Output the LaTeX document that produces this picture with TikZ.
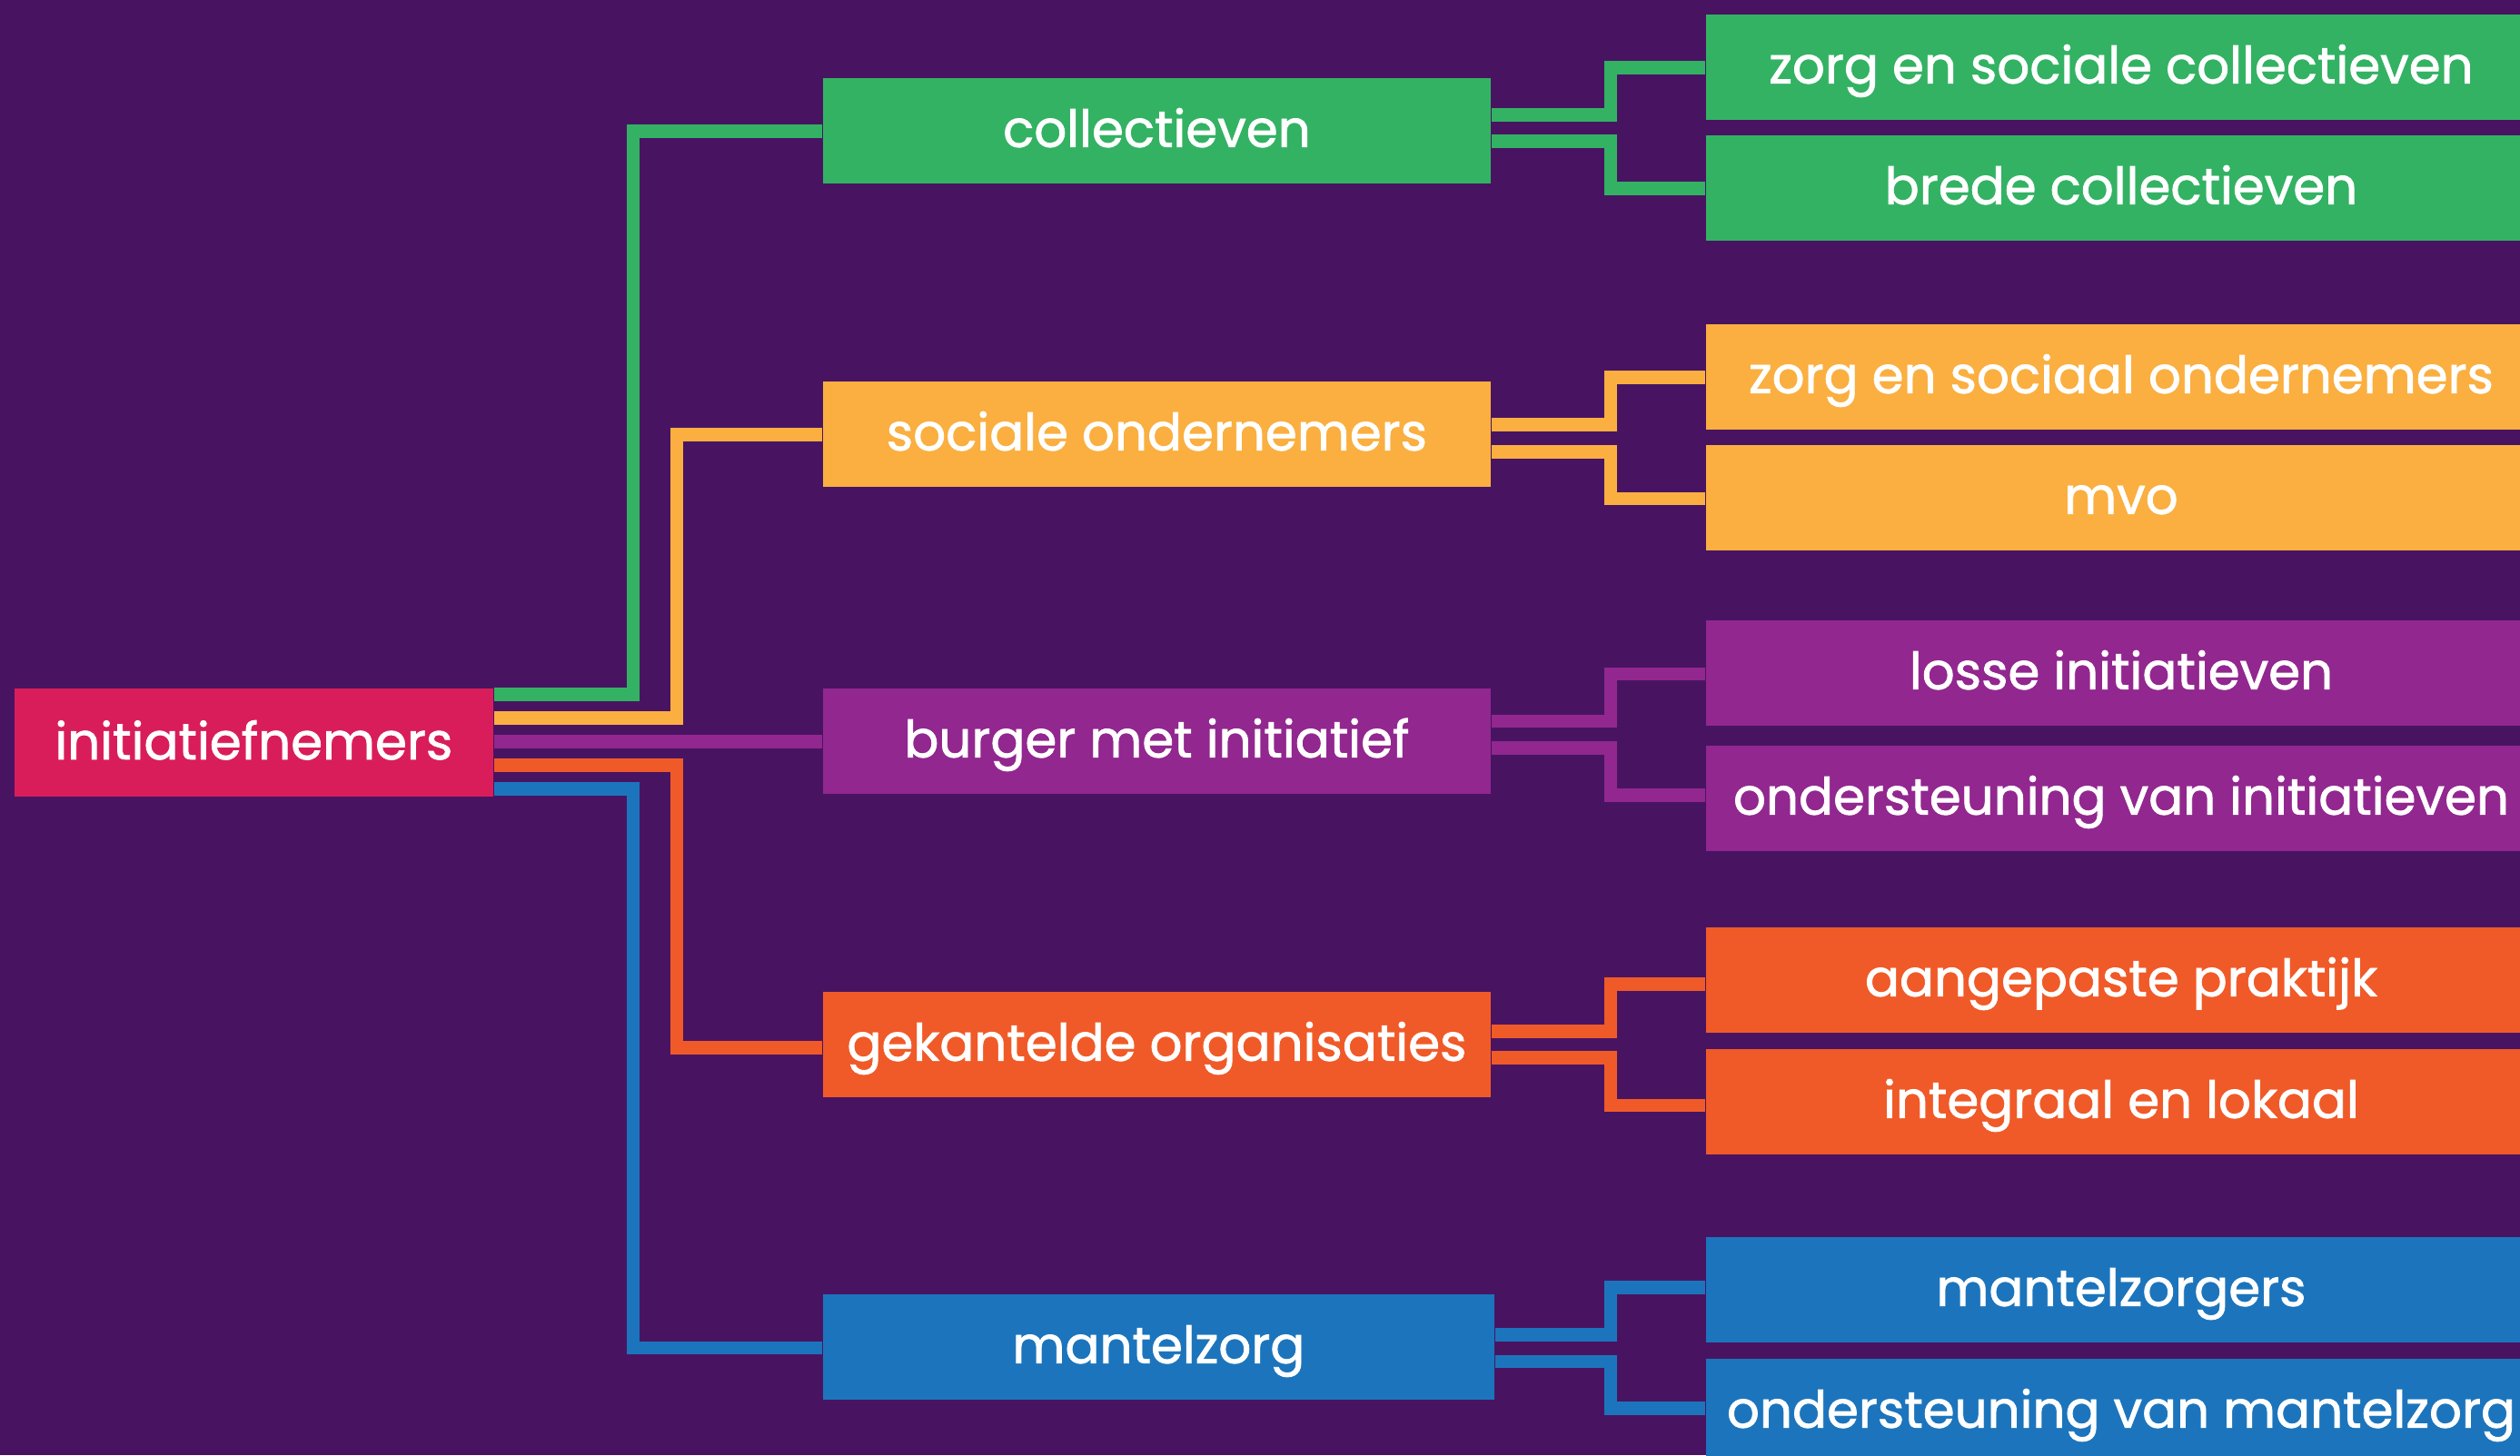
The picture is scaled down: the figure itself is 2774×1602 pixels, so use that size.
\documentclass[tikz,border=0pt]{standalone}
\usepackage{fontspec}
\setmainfont{Poppins}[FakeBold=1.4]
\definecolor{bgc}{RGB}{72,20,98}
\definecolor{cgreen}{RGB}{51,178,99}
\definecolor{cyellow}{RGB}{250,175,64}
\definecolor{cpurple}{RGB}{146,39,143}
\definecolor{corange}{RGB}{240,90,40}
\definecolor{cblue}{RGB}{28,117,188}
\definecolor{cpink}{RGB}{217,29,91}
\tikzset{
  box/.style={rectangle, inner sep=0pt, anchor=north west, minimum height=1.16cm,
    text height=0.36cm, text depth=0pt, text=white, font=\fontsize{16}{18}\selectfont},
  lvone/.style={box, minimum width=7.35cm},
  lvtwo/.style={box, minimum width=9.14cm},
  conn/.style={line width=0.147cm, line join=miter, line cap=butt}
}
\begin{document}
\begin{tikzpicture}[x=0.01cm,y=-0.01cm]
\useasboundingbox (0,0) rectangle (2774,1602);
\clip (0,0) rectangle (2774,1602);
\fill[bgc] (0,0) rectangle (2774,1602);

% root
\node[box, fill=cpink, minimum width=5.27cm, minimum height=1.19cm, text height=0.375cm] (root) at (15,757) {initiatiefnemers};

% level one
\node[lvone, fill=cgreen] (coll) at (905,85) {collectieven};
\node[lvone, fill=cyellow] (soc) at (905,419) {sociale ondernemers};
\node[lvone, fill=cpurple] (burg) at (905,757) {burger met initiatief};
\node[lvone, fill=corange] (gek) at (905,1091) {gekantelde organisaties};
\node[lvone, fill=cblue, minimum width=7.39cm] (mant) at (905,1424) {mantelzorg};

% level two
\node[lvtwo, fill=cgreen] (zsc) at (1877,15) {zorg en sociale collectieven};
\node[lvtwo, fill=cgreen] (brede) at (1877,148) {brede collectieven};
\node[lvtwo, fill=cyellow] (zso) at (1877,356) {zorg en sociaal ondernemers};
\node[lvtwo, fill=cyellow] (mvo) at (1877,489) {mvo};
\node[lvtwo, fill=cpurple] (losse) at (1877,682) {losse initiatieven};
\node[lvtwo, fill=cpurple] (ondi) at (1877,820) {ondersteuning van initiatieven};
\node[lvtwo, fill=corange] (aang) at (1877,1020) {aangepaste praktijk};
\node[lvtwo, fill=corange] (integ) at (1877,1154) {integraal en lokaal};
\node[lvtwo, fill=cblue] (mzgs) at (1877,1361) {mantelzorgers};
\node[lvtwo, fill=cblue] (ondm) at (1877,1495) {ondersteuning van mantelzorg};

% root connectors
\draw[conn, cgreen] (root.east |- 0,764.5) -- (697,764.5) -- (697,144.7) -- (coll.west |- 0,144.7);
\draw[conn, cyellow] (root.east |- 0,790.3) -- (745,790.3) -- (745,478.5) -- (soc.west |- 0,478.5);
\draw[conn, cpurple] (root.east |- 0,816.3) -- (burg.west |- 0,816.3);
\draw[conn, corange] (root.east |- 0,842.5) -- (745,842.5) -- (745,1153.7) -- (gek.west |- 0,1153.7);
\draw[conn, cblue] (root.east |- 0,868.3) -- (697,868.3) -- (697,1484) -- (mant.west |- 0,1484);

% level one connectors
\draw[conn, cgreen] (coll.east |- 0,126.3) -- (1773,126.3) -- (1773,74.3) -- (zsc.west |- 0,74.3);
\draw[conn, cgreen] (coll.east |- 0,155.8) -- (1773,155.8) -- (1773,207.5) -- (brede.west |- 0,207.5);
\draw[conn, cyellow] (soc.east |- 0,467.5) -- (1773,467.5) -- (1773,415.5) -- (zso.west |- 0,415.5);
\draw[conn, cyellow] (soc.east |- 0,497.5) -- (1773,497.5) -- (1773,549) -- (mvo.west |- 0,549);
\draw[conn, cpurple] (burg.east |- 0,794) -- (1773,794) -- (1773,742) -- (losse.west |- 0,742);
\draw[conn, cpurple] (burg.east |- 0,823.7) -- (1773,823.7) -- (1773,875.7) -- (ondi.west |- 0,875.7);
\draw[conn, corange] (gek.east |- 0,1135.3) -- (1773,1135.3) -- (1773,1083.7) -- (aang.west |- 0,1083.7);
\draw[conn, corange] (gek.east |- 0,1164.7) -- (1773,1164.7) -- (1773,1217) -- (integ.west |- 0,1217);
\draw[conn, cblue] (mant.east |- 0,1469.3) -- (1773,1469.3) -- (1773,1417.5) -- (mzgs.west |- 0,1417.5);
\draw[conn, cblue] (mant.east |- 0,1499) -- (1773,1499) -- (1773,1550.7) -- (ondm.west |- 0,1550.7);
\end{tikzpicture}
\end{document}
